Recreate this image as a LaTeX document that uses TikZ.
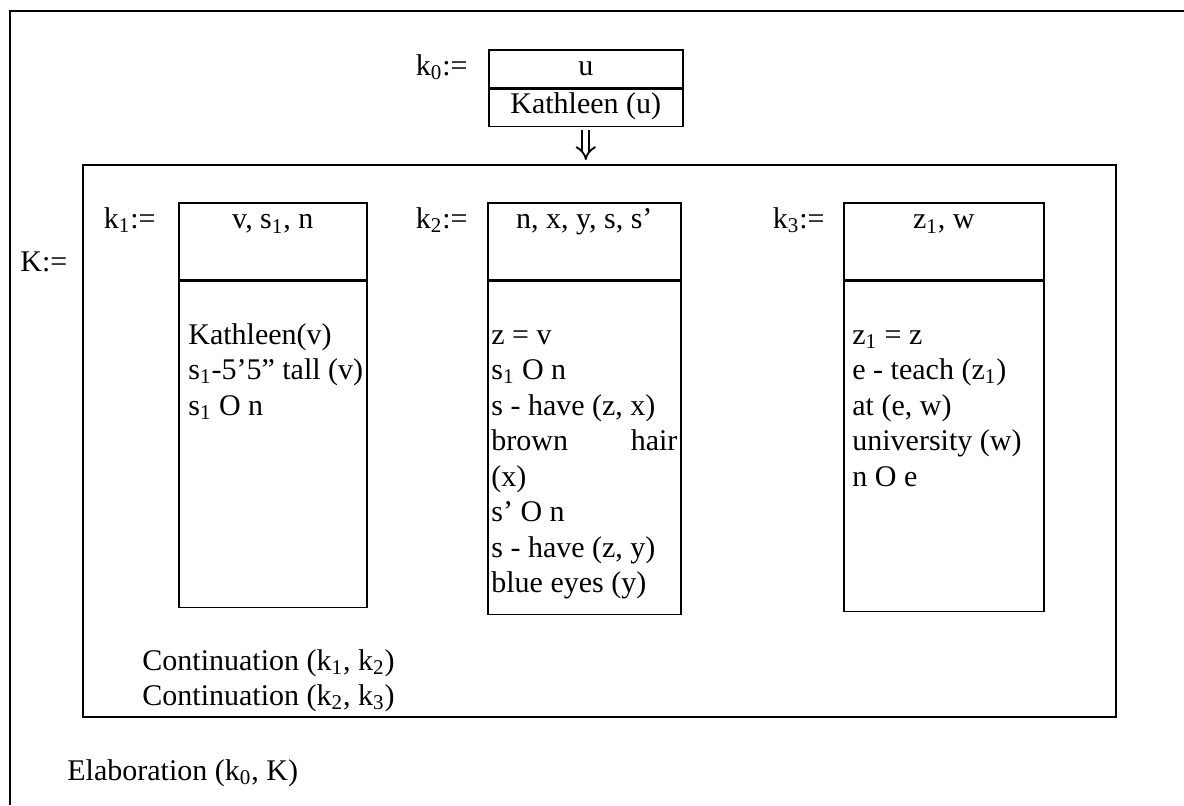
\documentclass[tikz,border=0pt]{standalone}
\usepackage{fontspec}
\setmainfont{Liberation Serif}
\usetikzlibrary{arrows.meta,positioning}

\begin{document}
\begin{tikzpicture}[x=0.5pt,y=-0.5pt,font=\fontsize{15}{17.75}\selectfont]
\tikzset{
  boxline/.style={draw,line width=0.8pt},
  headcell/.style={boxline,anchor=north west,inner sep=0pt,text height=13pt,text depth=25.5pt},
  bodycell/.style={boxline,anchor=north west,inner sep=0pt},
  condlist/.style={anchor=base west,align=flush left,inner sep=0pt},
  deflabel/.style={anchor=base east,inner sep=0pt},
  implies/.style={double,double distance=2.6pt,line width=0.9pt,-{Implies}}
}
\useasboundingbox (0,0) rectangle (1184,805);
% outer frame
\draw[line width=0.8pt] (1184,11) -- (10,11) -- (10,805);
% k0
\node[deflabel] (l_k0) at (468,75) {k\textsubscript{0}:=};
\node[headcell,minimum width=97pt,text height=13pt,text depth=6pt] (h_k0) at (488,49) {u};
\node[headcell,minimum width=97pt,text height=12pt,text depth=6.5pt] (b_k0) at (h_k0.south west) {Kathleen (u)};
% K
\node[bodycell,minimum width=516.5pt,minimum height=276pt] (b_K) at (82,164) {};
\node[anchor=base west,inner sep=0pt] (l_K) at (20,271) {K:=};
\draw[implies,shorten <=1.5pt,shorten >=2pt] (b_k0.south) -- (b_k0.south |- b_K.north);
% k1
\node[deflabel] (l_k1) at (156,228) {k\textsubscript{1}:=};
\node[headcell,minimum width=94pt] (h_k1) at (178,202) {v, s\textsubscript{1}, n};
\node[bodycell,minimum width=94pt,minimum height=163pt] (b_k1) at (h_k1.south west) {};
\node[condlist,text width=92pt] (c_k1) at (188,344) {Kathleen(v)\\s\textsubscript{1}-5’5” tall (v)\\s\textsubscript{1} O n};
% k2
\node[deflabel] (l_k2) at (468,228) {k\textsubscript{2}:=};
\node[headcell,minimum width=96.5pt] (h_k2) at (487,202) {n, x, y, s, s’};
\node[bodycell,minimum width=96.5pt,minimum height=166.5pt] (b_k2) at (h_k2.south west) {};
\node[condlist,text width=93pt] (c_k2) at (491,344) {z = v\\s\textsubscript{1} O n\\s - have (z, x)\\brown\hfill hair\\(x)\\s’ O n\\s - have (z, y)\\blue eyes (y)};
% k3
\node[deflabel] (l_k3) at (825,228) {k\textsubscript{3}:=};
\node[headcell,minimum width=100pt] (h_k3) at (843,202) {z\textsubscript{1}, w};
\node[bodycell,minimum width=100pt,minimum height=165pt] (b_k3) at (h_k3.south west) {};
\node[condlist,text width=94pt] (c_k3) at (852,344) {z\textsubscript{1} = z\\e - teach (z\textsubscript{1})\\at (e, w)\\university (w)\\n O e};
% relations
\node[condlist,text width=160pt] (r_K) at (142,670) {Continuation (k\textsubscript{1}, k\textsubscript{2})\\Continuation (k\textsubscript{2}, k\textsubscript{3})};
\node[condlist] (r_top) at (67,780) {Elaboration (k\textsubscript{0}, K)};
\end{tikzpicture}
\end{document}
